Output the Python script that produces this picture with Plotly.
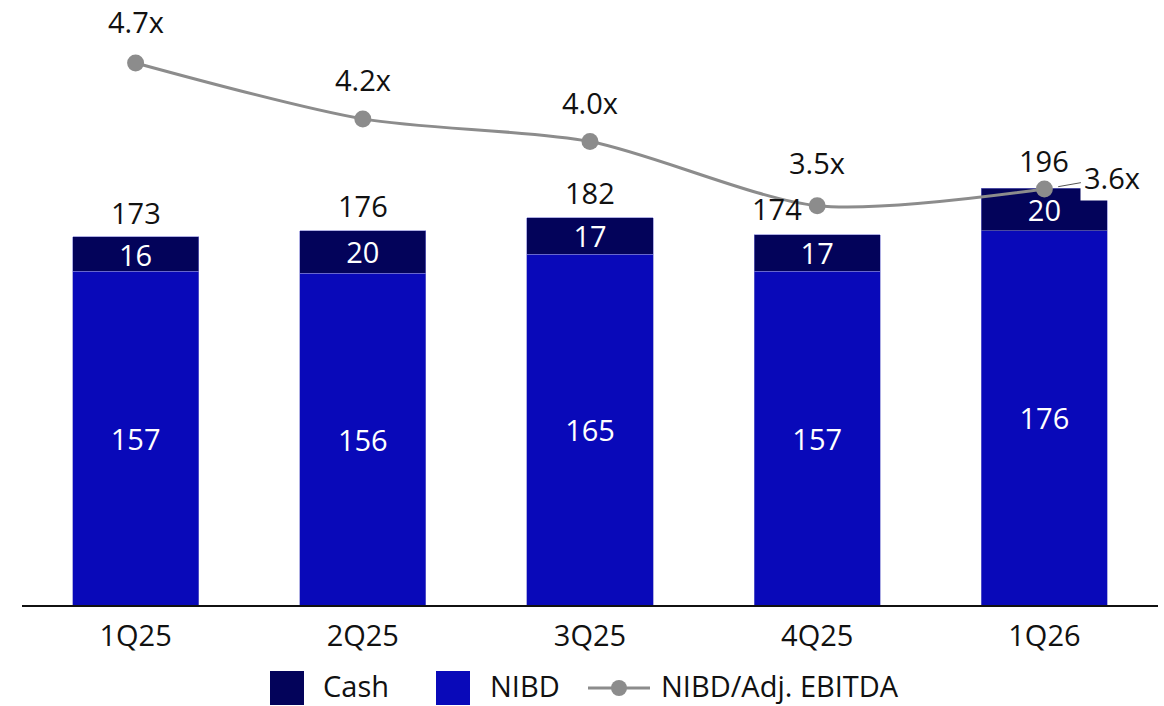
import plotly.graph_objects as go

# ---- data ----
quarters = ["1Q25", "2Q25", "3Q25", "4Q25", "1Q26"]
nibd = [157, 156, 165, 157, 176]
cash = [16, 20, 17, 17, 20]
totals = [173, 176, 182, 174, 196]
leverage = [4.70, 4.23, 4.04, 3.50, 3.64]

# ---- style ----
FONT = "Open Sans"
C_CASH = "#03035A"
C_NIBD = "#0909B9"
C_LINE = "#8C8C8C"
FS = 29

W, H = 1164, 706
ML, MR, MT, MB = 22, 6, 20, 101
PW, PH = W - ML - MR, H - MT - MB


def px(xp):
    return (xp - ML) / PW


def py(yp):
    return (H - MB - yp) / PH


fig = go.Figure()

fig.add_trace(go.Bar(
    x=quarters, y=nibd, name="NIBD", marker_color=C_NIBD,
    marker_line=dict(color="#7a7ad0", width=0.6),
    text=[str(v) for v in nibd], textposition="inside", textangle=0,
    insidetextanchor="middle", constraintext="none",
    textfont=dict(color="white", size=FS, family=FONT),
    hoverinfo="skip",
))
fig.add_trace(go.Bar(
    x=quarters, y=cash, name="Cash", marker_color=C_CASH,
    marker_line=dict(color="#7a7ad0", width=0.6),
    text=[str(v) for v in cash], textposition="inside", textangle=0,
    insidetextanchor="middle", constraintext="none",
    textfont=dict(color="white", size=FS, family=FONT),
    hoverinfo="skip",
))
fig.add_trace(go.Scatter(
    x=quarters, y=leverage, yaxis="y2", name="NIBD/Adj. EBITDA",
    mode="lines+markers",
    line=dict(color=C_LINE, width=3, shape="spline", smoothing=0.8),
    marker=dict(color=C_LINE, size=17),
    hoverinfo="skip",
))

annotations = []
# total labels above bars
tot_xshift = [0, 0, 0, -40, 0]
tot_yshift = [24, 25, 25, 26, 28]
for q, t, xs, ys in zip(quarters, totals, tot_xshift, tot_yshift):
    annotations.append(dict(
        x=q, y=t, xref="x", yref="y", text=str(t), showarrow=False,
        xshift=xs, yshift=ys, font=dict(size=FS, family=FONT, color="#111111"),
    ))

# leverage labels
lev_yshift = [41, 39, 39, 43]
for q, v, ys in zip(quarters[:4], leverage[:4], lev_yshift):
    annotations.append(dict(
        x=q, y=v, xref="x", yref="y2", text=f"{v:.1f}x", showarrow=False,
        yshift=ys, font=dict(size=FS, family=FONT, color="#111111"),
    ))
annotations.append(dict(
    x=quarters[4], y=leverage[4], xref="x", yref="y2",
    text=f"{leverage[4]:.1f}x", showarrow=True, arrowhead=0,
    arrowwidth=1, arrowcolor="#555555", ax=68, ay=-12, standoff=14,
    bgcolor="white", borderpad=3,
    font=dict(size=FS, family=FONT, color="#111111"),
))

# custom legend
shapes = []
leg_y = 688
sq = 17
shapes.append(dict(type="rect", xref="paper", yref="paper",
                   x0=px(270), x1=px(304), y0=py(leg_y + sq), y1=py(leg_y - sq),
                   fillcolor=C_CASH, line=dict(width=0), layer="above"))
shapes.append(dict(type="rect", xref="paper", yref="paper",
                   x0=px(436), x1=px(470), y0=py(leg_y + sq), y1=py(leg_y - sq),
                   fillcolor=C_NIBD, line=dict(width=0), layer="above"))
shapes.append(dict(type="line", xref="paper", yref="paper",
                   x0=px(588), x1=px(650), y0=py(leg_y), y1=py(leg_y),
                   line=dict(color=C_LINE, width=3), layer="above"))
shapes.append(dict(type="circle", xref="paper", yref="paper",
                   x0=px(611), x1=px(627), y0=py(leg_y + 8), y1=py(leg_y - 8),
                   fillcolor=C_LINE, line=dict(width=0), layer="above"))
for xt, label in [(322, "Cash"), (489, "NIBD"), (660, "NIBD/Adj. EBITDA")]:
    annotations.append(dict(
        x=px(xt), y=py(H), xref="paper", yref="paper", text=label,
        showarrow=False, xanchor="left", yanchor="bottom", height=34,
        valign="bottom", borderpad=0,
        font=dict(size=FS, family=FONT, color="#111111"),
    ))

fig.update_layout(
    width=W, height=H,
    margin=dict(l=ML, r=MR, t=MT, b=MB),
    barmode="stack", bargap=0.445,
    plot_bgcolor="white", paper_bgcolor="white",
    showlegend=False,
    font=dict(family=FONT, size=FS, color="#111111"),
    xaxis=dict(showline=True, linecolor="#111111", linewidth=1.5,
               showgrid=False, ticks="", tickfont=dict(size=FS, family=FONT),
               ticklabelstandoff=4,
               range=[-0.5, 4.5], fixedrange=True),
    yaxis=dict(visible=False, range=[0, 275], showgrid=False),
    yaxis2=dict(visible=False, overlaying="y", range=[0.145, 5.061],
                showgrid=False),
    annotations=annotations,
    shapes=shapes,
)

fig.write_html("out.html")
